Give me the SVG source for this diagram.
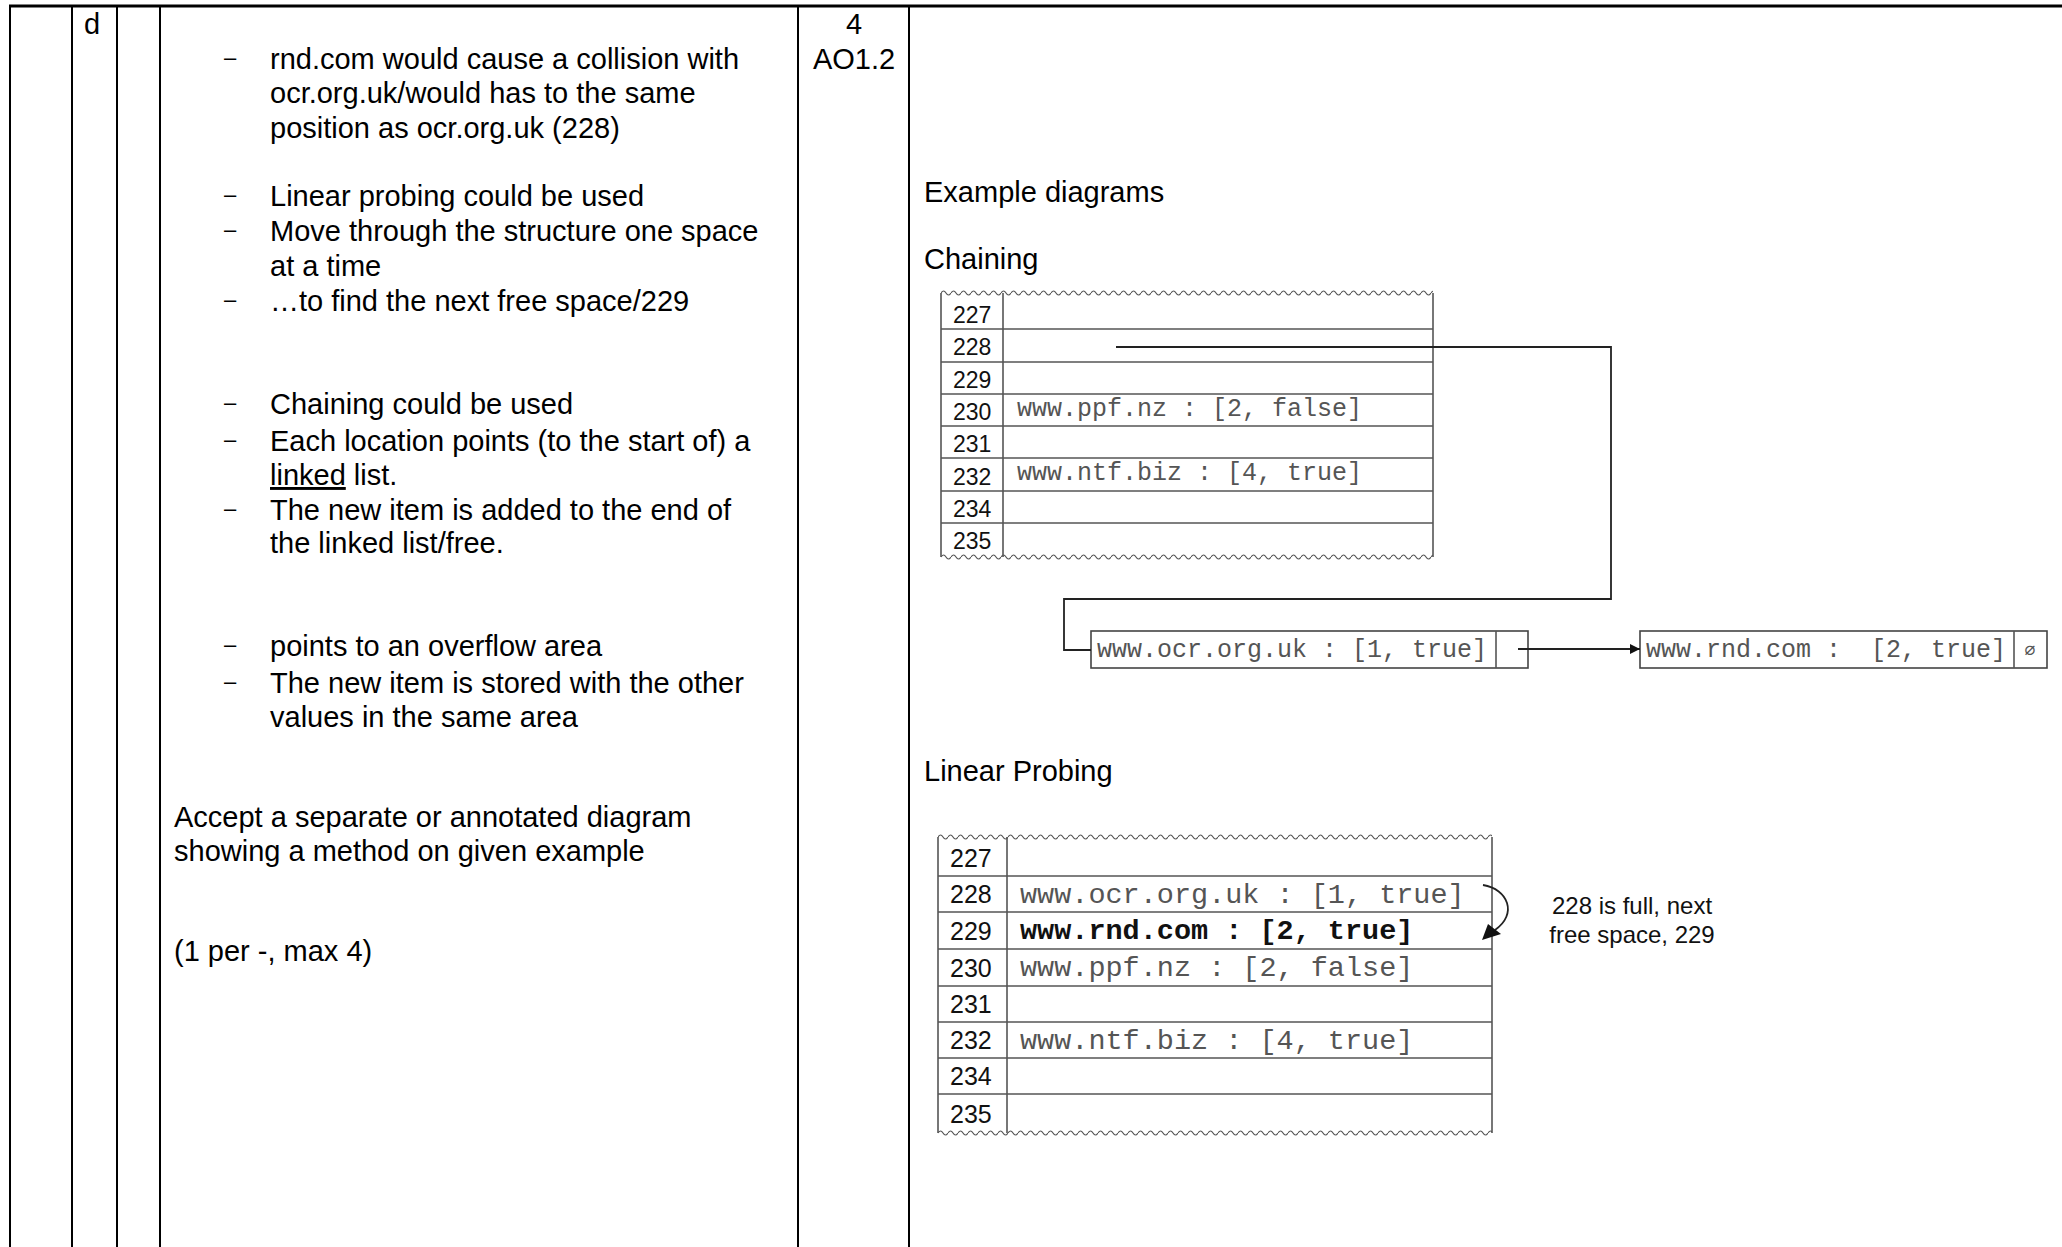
<svg xmlns="http://www.w3.org/2000/svg" width="2062" height="1247" viewBox="0 0 2062 1247">
<style>
.t{font-family:"Liberation Sans",Arial,sans-serif;font-size:29px;fill:#000}
.dash{font-family:"Liberation Sans",Arial,sans-serif;font-size:22px;fill:#000}
.num{font-family:"Liberation Sans",Arial,sans-serif;fill:#111}
.mono{font-family:"Liberation Mono","Courier New",monospace;fill:#555}
.note{font-family:"Liberation Sans",Arial,sans-serif;font-size:24px;fill:#111}
.rule{stroke:#000;stroke-width:2;fill:none}
.grid{stroke:#555;stroke-width:1.6;fill:none}
.conn{stroke:#222;stroke-width:1.8;fill:none}
</style>
<defs>
<pattern id="wave" patternUnits="userSpaceOnUse" width="10" height="8">
<path d="M0,4 Q2.5,0 5,4 T10,4" stroke="#555" stroke-width="1.2" fill="none"/>
</pattern>
<marker id="arrow" viewBox="0 0 10 10" refX="10" refY="5" markerWidth="10" markerHeight="10" markerUnits="userSpaceOnUse" orient="auto">
<path d="M0,0 L10,5 L0,10 z" fill="#111"/>
</marker>
</defs>
<rect width="2062" height="1247" fill="#fff"/>

<g id="table-frame">
<line x1="9" y1="6" x2="2062" y2="6" stroke="#000" stroke-width="3"/>
<line class="rule" x1="10" y1="5" x2="10" y2="1247" stroke-width="2.5"/>
<line class="rule" x1="72" y1="6" x2="72" y2="1247"/>
<line class="rule" x1="117" y1="6" x2="117" y2="1247"/>
<line class="rule" x1="160" y1="6" x2="160" y2="1247"/>
<line class="rule" x1="798" y1="6" x2="798" y2="1247"/>
<line class="rule" x1="909" y1="6" x2="909" y2="1247"/>
</g>

<g id="part-label">
<text class="t" x="84" y="34">d</text>
</g>

<g id="marks">
<text class="t" x="854" y="34" text-anchor="middle">4</text>
<text class="t" x="854" y="69" text-anchor="middle">AO1.2</text>
</g>

<g id="guidance">
<text class="dash" x="224" y="65">–</text>
<text class="t" x="270" y="69">rnd.com would cause a collision with</text>
<text class="t" x="270" y="103">ocr.org.uk/would has to the same</text>
<text class="t" x="270" y="138">position as ocr.org.uk (228)</text>

<text class="dash" x="224" y="202">–</text>
<text class="t" x="270" y="206">Linear probing could be used</text>
<text class="dash" x="224" y="237">–</text>
<text class="t" x="270" y="241">Move through the structure one space</text>
<text class="t" x="270" y="276">at a time</text>
<text class="dash" x="224" y="307">–</text>
<text class="t" x="270" y="311">…to find the next free space/229</text>

<text class="dash" x="224" y="410">–</text>
<text class="t" x="270" y="414">Chaining could be used</text>
<text class="dash" x="224" y="447">–</text>
<text class="t" x="270" y="451">Each location points (to the start of) a</text>
<text class="t" x="270" y="485"><tspan text-decoration="underline">linked</tspan> list.</text>
<text class="dash" x="224" y="516">–</text>
<text class="t" x="270" y="520">The new item is added to the end of</text>
<text class="t" x="270" y="553">the linked list/free.</text>

<text class="dash" x="224" y="652">–</text>
<text class="t" x="270" y="656">points to an overflow area</text>
<text class="dash" x="224" y="689">–</text>
<text class="t" x="270" y="693">The new item is stored with the other</text>
<text class="t" x="270" y="727">values in the same area</text>

<text class="t" x="174" y="827">Accept a separate or annotated diagram</text>
<text class="t" x="174" y="861">showing a method on given example</text>
<text class="t" x="174" y="961">(1 per -, max 4)</text>
</g>

<g id="headings">
<text class="t" x="924" y="202">Example diagrams</text>
<text class="t" x="924" y="269">Chaining</text>
<text class="t" x="924" y="781">Linear Probing</text>
</g>

<g id="chaining-table">
<g transform="translate(941,289)"><rect x="0" y="0" width="492" height="8" fill="url(#wave)"/></g>
<g transform="translate(941,553)"><rect x="0" y="0" width="492" height="8" fill="url(#wave)"/></g>
<line class="grid" x1="941" y1="293" x2="941" y2="557"/>
<line class="grid" x1="1003" y1="293" x2="1003" y2="557"/>
<line class="grid" x1="1433" y1="293" x2="1433" y2="557"/>
<line class="grid" x1="941" y1="329" x2="1433" y2="329"/>
<line class="grid" x1="941" y1="362" x2="1433" y2="362"/>
<line class="grid" x1="941" y1="394" x2="1433" y2="394"/>
<line class="grid" x1="941" y1="426" x2="1433" y2="426"/>
<line class="grid" x1="941" y1="458" x2="1433" y2="458"/>
<line class="grid" x1="941" y1="491" x2="1433" y2="491"/>
<line class="grid" x1="941" y1="523" x2="1433" y2="523"/>
<g class="num" font-size="23">
<text x="953" y="323">227</text>
<text x="953" y="355">228</text>
<text x="953" y="388">229</text>
<text x="953" y="420">230</text>
<text x="953" y="452">231</text>
<text x="953" y="485">232</text>
<text x="953" y="517">234</text>
<text x="953" y="549">235</text>
</g>
<g class="mono" font-size="25">
<text x="1017" y="416">www.ppf.nz : [2, false]</text>
<text x="1017" y="480">www.ntf.biz : [4, true]</text>
</g>
</g>

<g id="node-ocr">
<rect x="1091" y="631" width="437" height="37" fill="#fff" stroke="#444" stroke-width="1.6"/>
<line class="grid" x1="1496" y1="631" x2="1496" y2="668"/>
<text class="mono" font-size="25" x="1097" y="657">www.ocr.org.uk : [1, true]</text>
</g>

<g id="node-rnd">
<rect x="1640" y="631" width="407" height="37" fill="#fff" stroke="#444" stroke-width="1.6"/>
<line class="grid" x1="2014" y1="631" x2="2014" y2="668"/>
<text class="mono" font-size="25" x="1646" y="657" xml:space="preserve">www.rnd.com :  [2, true]</text>
<text class="mono" font-size="18" x="2030" y="656" text-anchor="middle">∅</text>
</g>

<g id="probing-table">
<g transform="translate(938,833)"><rect x="0" y="0" width="554" height="8" fill="url(#wave)"/></g>
<g transform="translate(938,1129)"><rect x="0" y="0" width="554" height="8" fill="url(#wave)"/></g>
<line class="grid" x1="938" y1="837" x2="938" y2="1133"/>
<line class="grid" x1="1007" y1="837" x2="1007" y2="1133"/>
<line class="grid" x1="1492" y1="837" x2="1492" y2="1133"/>
<line class="grid" x1="938" y1="876" x2="1492" y2="876"/>
<line class="grid" x1="938" y1="912" x2="1492" y2="912"/>
<line class="grid" x1="938" y1="949" x2="1492" y2="949"/>
<line class="grid" x1="938" y1="986" x2="1492" y2="986"/>
<line class="grid" x1="938" y1="1022" x2="1492" y2="1022"/>
<line class="grid" x1="938" y1="1058" x2="1492" y2="1058"/>
<line class="grid" x1="938" y1="1094" x2="1492" y2="1094"/>
<g class="num" font-size="25">
<text x="950" y="867">227</text>
<text x="950" y="903">228</text>
<text x="950" y="940">229</text>
<text x="950" y="977">230</text>
<text x="950" y="1013">231</text>
<text x="950" y="1049">232</text>
<text x="950" y="1085">234</text>
<text x="950" y="1123">235</text>
</g>
<g class="mono" font-size="28.5">
<text x="1020" y="903">www.ocr.org.uk : [1, true]</text>
<text x="1020" y="939" font-weight="bold" fill="#111">www.rnd.com : [2, true]</text>
<text x="1020" y="976">www.ppf.nz : [2, false]</text>
<text x="1020" y="1049">www.ntf.biz : [4, true]</text>
</g>
</g>

<g id="probe-note">
<text class="note" x="1632" y="914" text-anchor="middle">228 is full, next</text>
<text class="note" x="1632" y="943" text-anchor="middle">free space, 229</text>
</g>

<g id="connectors">
<polyline class="conn" points="1116,347 1611,347 1611,599 1064,599 1064,650 1091,650"/>
<line class="conn" x1="1518" y1="649" x2="1640" y2="649" marker-end="url(#arrow)"/>
<path class="conn" d="M1483,885 C1508,889 1518,914 1495,930"/>
<polygon points="1482,940 1488,924 1501,934" fill="#111"/>
</g>
</svg>
